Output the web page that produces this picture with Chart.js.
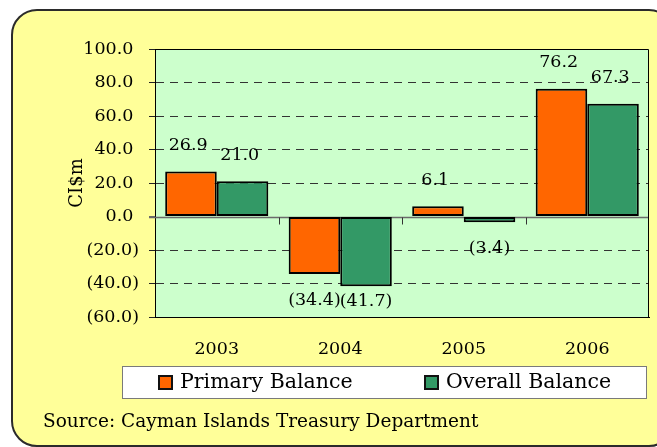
<!DOCTYPE html>
<html><head><meta charset="utf-8">
<script src="https://cdn.jsdelivr.net/npm/chart.js@4"></script>
<style>
html,body{margin:0;padding:0;width:657px;height:447px;overflow:hidden;background:#fff}
#frame{position:absolute;left:11px;top:9px;width:660px;height:434px;border:2px solid #2b2b2b;border-radius:26px;background:#FFFF99;box-sizing:content-box}
#wrap{position:absolute;left:0;top:0;width:657px;height:447px}
</style></head><body>
<div id="frame"></div>
<div id="wrap"><canvas id="c" width="657" height="447"></canvas></div>
<script>
const categories = ['2003', '2004', '2005', '2006'];
const seriesNames = ['Primary Balance', 'Overall Balance'];
const primaryBalance = [26.9, -34.4, 6.1, 76.2];
const overallBalance = [21.0, -41.7, -3.4, 67.3];
const yTickValues = [-60, -40, -20, 0, 20, 40, 60, 80, 100];
const yAxisTitle = 'CI$m';
const sourceNote = 'Source: Cayman Islands Treasury Department';

const FONT = '"DejaVu Serif", "Liberation Serif", serif';
const fmtTick = v => v < 0 ? '(' + Math.abs(v).toFixed(1) + ')' : v.toFixed(1) + ' ';
const fmtLabel = v => v < 0 ? '(' + Math.abs(v).toFixed(1) + ')' : v.toFixed(1) + ' ';

const decor = {
  id: 'decor',
  beforeDraw(chart) {
    const {ctx, chartArea: a} = chart;
    ctx.save();
    ctx.fillStyle = '#CCFFCC';
    ctx.fillRect(a.left, a.top, a.right - a.left, a.bottom - a.top);
    ctx.restore();
  },
  beforeDatasetsDraw(chart) {
    const {ctx, chartArea: a, scales: {x, y}} = chart;
    const y0 = Math.round(y.getPixelForValue(0)) + 0.5;
    ctx.save();
    ctx.strokeStyle = '#6a6a6a';
    ctx.lineWidth = 1.5;
    ctx.beginPath(); ctx.moveTo(a.left - 6, y0); ctx.lineTo(a.right, y0); ctx.stroke();
    ctx.strokeStyle = '#333';
    ctx.lineWidth = 1;
    for (let i = 1; i < categories.length; i++) {
      const xb = Math.round((x.getPixelForValue(i - 1) + x.getPixelForValue(i)) / 2) + 0.5;
      ctx.beginPath(); ctx.moveTo(xb, y0); ctx.lineTo(xb, y0 + 7); ctx.stroke();
    }
    ctx.strokeStyle = '#000';
    ctx.beginPath();
    ctx.moveTo(a.left, a.top + 0.5); ctx.lineTo(a.right - 0.5, a.top + 0.5); ctx.lineTo(a.right - 0.5, a.bottom);
    ctx.stroke();
    ctx.restore();
  },
  afterDatasetsDraw(chart) {
    const {ctx, chartArea: a} = chart;
    ctx.save();
    ctx.font = '17.5px ' + FONT;
    ctx.fillStyle = '#000';
    ctx.textAlign = 'center';
    ctx.textBaseline = 'middle';
    chart.data.datasets.forEach((ds, di) => {
      chart.getDatasetMeta(di).data.forEach((bar, i) => {
        const v = ds.data[i];
        let yy = v >= 0 ? bar.y - 26 : bar.y + 26;
        yy = Math.max(a.top + 10, Math.min(a.bottom - 16, yy));
        ctx.fillText(fmtLabel(v), bar.x, yy);
      });
    });
    ctx.restore();
  },
  afterDraw(chart) {
    const {ctx, chartArea: a} = chart;
    ctx.save();
    const bx = a.left - 33, by = a.bottom + 49, bw = a.right - 3 - bx, bh = 32;
    ctx.fillStyle = '#fff';
    ctx.fillRect(bx, by, bw, bh);
    ctx.strokeStyle = '#7a7a7a';
    ctx.lineWidth = 1;
    ctx.strokeRect(bx + 0.5, by + 0.5, bw, bh);
    const itemX = [bx + 36, bx + 302];
    ctx.font = '20.5px ' + FONT;
    ctx.textBaseline = 'middle';
    ctx.textAlign = 'left';
    chart.data.datasets.forEach((ds, i) => {
      const sx = itemX[i], sy = by + 9;
      ctx.fillStyle = ds.backgroundColor;
      ctx.fillRect(sx, sy, 15, 15);
      ctx.strokeStyle = '#111';
      ctx.lineWidth = 2;
      ctx.strokeRect(sx + 1, sy + 1, 13, 13);
      ctx.fillStyle = '#000';
      ctx.fillText(ds.label, sx + 22, by + bh / 2 + 1);
    });
    ctx.font = '18.5px ' + FONT;
    ctx.fillText(sourceNote, 43, 422);
    ctx.restore();
  }
};

new Chart(document.getElementById('c'), {
  type: 'bar',
  data: {
    labels: categories,
    datasets: [
      {label: seriesNames[0], data: primaryBalance, backgroundColor: '#FF6600', borderColor: '#000', borderWidth: 2, borderSkipped: false},
      {label: seriesNames[1], data: overallBalance, backgroundColor: '#339966', borderColor: '#000', borderWidth: 2, borderSkipped: false}
    ]
  },
  options: {
    responsive: false,
    animation: false,
    devicePixelRatio: 1,
    barPercentage: 1,
    categoryPercentage: 0.835,
    layout: {padding: {left: 60, top: 49, right: 8, bottom: 86}},
    plugins: {legend: {display: false}, tooltip: {enabled: false}},
    scales: {
      x: {
        grid: {display: false, drawTicks: false},
        border: {display: true, color: '#000', width: 1},
        ticks: {font: {family: FONT, size: 17.5}, color: '#000', padding: 22},
        afterFit: s => { s.height = 44; }
      },
      y: {
        min: -60, max: 100,
        afterBuildTicks: s => { s.ticks = yTickValues.map(v => ({value: v})); },
        grid: {
          color: c => (c.tick && (c.tick.value === 0 || c.tick.value === -60 || c.tick.value === 100)) ? 'rgba(0,0,0,0)' : '#333',
          tickColor: c => (c.tick && c.tick.value === 0) ? '#6a6a6a' : '#222',
          tickLength: 6,
          tickBorderDash: []
        },
        border: {display: true, color: '#000', width: 1, dash: [8, 6]},
        ticks: {font: {family: FONT, size: 17.5}, color: '#000', padding: 10, callback: v => fmtTick(v)},
        title: {display: true, text: yAxisTitle, font: {family: FONT, size: 18}, color: '#000', padding: {top: 7, bottom: 0}},
        afterFit: s => { s.width = 95; }
      }
    }
  },
  plugins: [decor]
});
</script>
</body></html>
